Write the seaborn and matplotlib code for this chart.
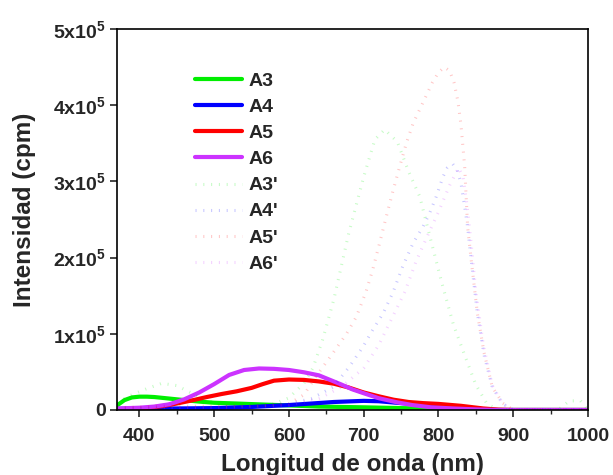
import matplotlib
matplotlib.use("Agg")
import matplotlib.pyplot as plt
import seaborn as sns
import pandas as pd
from matplotlib.ticker import MultipleLocator, FixedLocator, FixedFormatter

sns.set_style("ticks")
plt.rcParams['font.family'] = ['Liberation Sans', 'DejaVu Sans']
plt.rcParams['font.weight'] = 'bold'
plt.rcParams['mathtext.fontset'] = 'custom'
plt.rcParams['mathtext.rm'] = 'Liberation Sans:bold'
plt.rcParams['mathtext.it'] = 'Liberation Sans:bold'
plt.rcParams['mathtext.bf'] = 'Liberation Sans:bold'

# ---- data (wavelength nm, intensity cpm) ----
a3_x = [370, 380, 390, 400, 410, 420, 440, 460, 480, 500, 530, 570, 600, 640, 700, 750, 800, 850, 880, 1000]
a3_y = [6000, 13000, 16500, 17500, 17500, 17000, 15000, 13000, 11000, 9500, 8500, 7000, 6000, 4500, 3500, 2500, 1500, 700, 0, 0]

a4_x = [370, 400, 450, 500, 550, 600, 630, 660, 700, 720, 750, 780, 800, 830, 850, 870, 1000]
a4_y = [1500, 2000, 2000, 2500, 4000, 6500, 8500, 10500, 12000, 11500, 9000, 7500, 6500, 4000, 1500, 0, 0]

a5_x = [370, 400, 430, 450, 470, 490, 510, 530, 550, 565, 580, 600, 620, 640, 660, 680, 700, 720, 740, 760, 780, 800, 830, 860, 880, 900, 1000]
a5_y = [0, 1500, 5000, 8500, 12500, 17000, 21000, 24500, 29000, 34000, 38500, 40000, 39500, 37500, 34500, 29500, 23000, 18000, 13500, 10500, 9000, 8000, 5500, 2000, 500, 0, 0]

a6_x = [370, 400, 420, 440, 460, 480, 500, 520, 540, 560, 580, 600, 620, 640, 655, 670, 685, 700, 720, 745, 765, 790, 820, 850, 880, 1000]
a6_y = [2000, 3000, 4500, 7500, 14000, 23000, 34000, 46000, 52500, 54500, 54000, 52500, 49500, 45500, 39500, 33500, 27000, 22000, 15500, 10000, 6500, 3500, 2000, 800, 0, 0]

a3p_x = [370, 390, 410, 430, 450, 470, 490, 520, 560, 580, 600, 620, 632, 645, 660, 680, 700, 715, 728, 745, 760, 775, 790, 805, 820, 835, 850, 865, 880, 960, 975, 990, 1000]
a3p_y = [10000, 20000, 28000, 35000, 32000, 22000, 12000, 6000, 5000, 8000, 16000, 35000, 55000, 92000, 145000, 232000, 306000, 355000, 368000, 352000, 313000, 280000, 222000, 165000, 112000, 72000, 33000, 8000, 0, 0, 12000, 12000, 0]

a4p_x = [370, 500, 600, 630, 659, 681, 699, 712, 726, 739, 752, 766, 779, 788, 797, 806, 812, 819, 825, 830, 835, 839, 844, 852, 861, 872, 886, 900, 1000]
a4p_y = [2000, 3000, 8000, 15000, 30000, 57000, 83000, 105000, 127000, 154000, 188000, 219000, 240000, 258000, 280000, 306000, 318000, 323000, 315000, 298000, 267000, 240000, 195000, 127000, 72000, 30000, 8000, 0, 0]

a5p_x = [370, 450, 550, 600, 620, 637, 659, 677, 690, 703, 712, 721, 730, 739, 748, 757, 766, 779, 792, 800, 808, 815, 821, 826, 830, 835, 839, 844, 852, 861, 872, 886, 900, 1000]
a5p_y = [3000, 5000, 5000, 8000, 20000, 45000, 75000, 100000, 122000, 155000, 184000, 218000, 253000, 287000, 319000, 350000, 376000, 403000, 430000, 443000, 450000, 445000, 429000, 405000, 375000, 320000, 240000, 195000, 127000, 75000, 30000, 9000, 0, 0]

a6p_x = [370, 500, 600, 640, 670, 700, 720, 740, 755, 770, 785, 800, 815, 827, 833, 838, 843, 850, 860, 872, 886, 900, 1000]
a6p_y = [2000, 3000, 6000, 15000, 30000, 55000, 85000, 125000, 155000, 195000, 228000, 260000, 295000, 318000, 305000, 270000, 225000, 155000, 85000, 32000, 8000, 0, 0]

series = [
    ("A3", a3_x, a3_y, "#00EE00"),
    ("A4", a4_x, a4_y, "#0000FF"),
    ("A5", a5_x, a5_y, "#FF0000"),
    ("A6", a6_x, a6_y, "#CC33FF"),
]
faint = [
    ("A3'", a3p_x, a3p_y, "#00EE00"),
    ("A4'", a4p_x, a4p_y, "#0000FF"),
    ("A5'", a5p_x, a5p_y, "#FF0000"),
    ("A6'", a6p_x, a6p_y, "#CC33FF"),
]

x_ticks = [400, 500, 600, 700, 800, 900, 1000]
y_ticks = [0, 100000, 200000, 300000, 400000, 500000]
y_labels = ["0", "1x10$^{5}$", "2x10$^{5}$", "3x10$^{5}$", "4x10$^{5}$", "5x10$^{5}$"]

fig = plt.figure(figsize=(6.13, 4.75), dpi=100)
ax = fig.add_axes([117/613, 65/475, 471/613, 381/475])

for name, xs, ys, c in series:
    df = pd.DataFrame({"x": xs, "y": ys})
    sns.lineplot(data=df, x="x", y="y", ax=ax, color=c, linewidth=3.0,
                 label=name, estimator=None, sort=False)
for name, xs, ys, c in faint:
    df = pd.DataFrame({"x": xs, "y": ys})
    sns.lineplot(data=df, x="x", y="y", ax=ax, color=c, linewidth=2.2, alpha=0.22,
                 label=name, estimator=None, sort=False,
                 dashes=False)
for line in ax.get_lines()[4:]:
    line.set_dashes((0.35, 2.2))

ax.set_xlim(370, 1000)
ax.set_ylim(0, 500000)
ax.xaxis.set_major_locator(FixedLocator(x_ticks))
ax.xaxis.set_minor_locator(MultipleLocator(50))
ax.yaxis.set_major_locator(FixedLocator(y_ticks))
ax.yaxis.set_major_formatter(FixedFormatter(y_labels))
ax.tick_params(axis='both', which='major', direction='out', length=5, width=1.2,
               labelsize=14)
ax.tick_params(axis='x', which='major', pad=8)
ax.tick_params(axis='y', which='major', pad=3)
ax.tick_params(axis='x', which='minor', direction='out', length=3, width=1.0)
for lab in ax.get_xticklabels() + ax.get_yticklabels():
    lab.set_fontweight('bold')
for s in ax.spines.values():
    s.set_linewidth(1.2)
    s.set_color('black')
    s.set_visible(True)

ax.set_xlabel("Longitud de onda (nm)", fontsize=17.5, fontweight='bold', labelpad=6)
ax.set_ylabel("Intensidad (cpm)", fontsize=17.5, fontweight='bold')
ax.yaxis.set_label_coords(-0.172, 0.525)

leg = ax.legend(loc='upper left', bbox_to_anchor=(0.165, 0.887), frameon=False,
                fontsize=14, handlelength=2.45, handletextpad=0.3,
                labelspacing=0.44, borderpad=0, borderaxespad=0)
for t in leg.get_texts():
    t.set_fontweight('bold')
for h in leg.get_lines()[4:]:
    h.set_dashes((0.35, 2.2))

fig.savefig("out.png", dpi=100)
